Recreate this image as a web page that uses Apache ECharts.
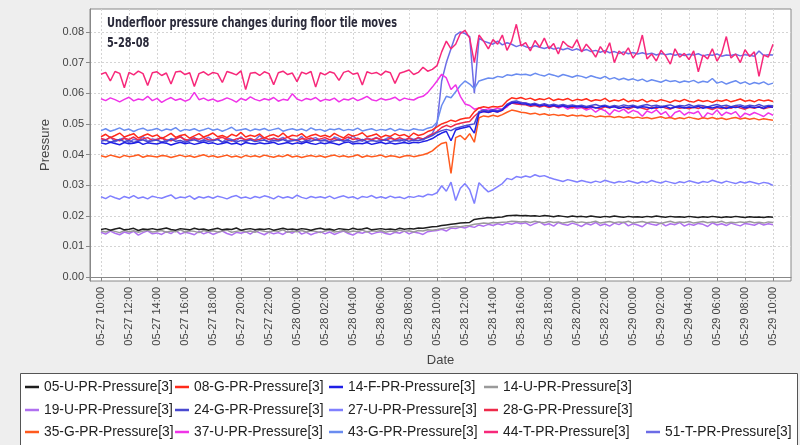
<!DOCTYPE html>
<html>
<head>
<meta charset="utf-8">
<script src="https://cdn.jsdelivr.net/npm/echarts@6/dist/echarts.min.js"></script>
<style>
html,body{margin:0;padding:0;background:#eeeeee;}
#chart{width:800px;height:445px;}
</style>
</head>
<body>
<div id="chart"></div>
<script>
// ---- Data (values in units of 0.0001 pressure) ----
const START_HOUR = 10;        // 05-27 10:00 (hours since 05-27 00:00)
const STEP_HOUR = 1 / 3;      // 20-minute samples
const SCALE = 10000;

const titleLines = ['Underfloor pressure changes during floor tile moves', '5-28-08'];
const xTickHours = [10,12,14,16,18,20,22,24,26,28,30,32,34,36,38,40,42,44,46,48,50,52,54,56,58];
const yTickValues = [0,0.01,0.02,0.03,0.04,0.05,0.06,0.07,0.08];

const seriesNames = [
  '05-U-PR-Pressure[3]','08-G-PR-Pressure[3]','14-F-PR-Pressure[3]','14-U-PR-Pressure[3]',
  '19-U-PR-Pressure[3]','24-G-PR-Pressure[3]','27-U-PR-Pressure[3]','28-G-PR-Pressure[3]',
  '35-G-PR-Pressure[3]','37-U-PR-Pressure[3]','43-G-PR-Pressure[3]','44-T-PR-Pressure[3]','51-T-PR-Pressure[3]'
];

const s05U = [
155,158,153,157,160,154,156,159,152,157,155,158, 154,157,160,155,153,158,156,154,159,155,157,153,
156,159,154,157,155,160,153,156,158,154,157,155, 158,153,156,159,155,157,154,158,156,153,157,159,
155,157,153,158,156,154,159,155,157,160,154,156, 158,155,157,154,159,156,158,157,160,159,162,164,
165,168,170,172,174,176,177,178,188,190,192,194,193,195,196,200,201,202,200,
201,199,200,198,201,199,197,200,198,196,199,197, 198,196,199,197,195,198,196,199,197,195,198,196,
197,195,198,196,199,197,195,198,196,197,195,198, 196,194,197,195,198,196,194,197,195,198,196,194,
197,195,196,194,197,195];

const s08G = [
458,466,455,462,470,457,463,468,454,461,467,459, 464,452,460,469,456,462,465,453,461,468,457,463,
470,458,462,455,466,460,472,457,463,459,467,454, 461,465,458,470,456,463,460,468,455,462,466,459,
463,457,469,461,454,466,460,464,471,458,462,467, 456,463,459,468,461,465,457,470,462,466,475,480,
490,500,505,512,508,515,518,520,540,552,556,553,557,555,558,575,585,582,586,
580,584,577,582,579,585,576,581,578,583,575,580, 577,582,574,579,576,583,573,578,575,581,572,577,
574,580,571,577,573,579,575,570,577,573,580,574, 571,578,573,576,570,577,574,579,572,576,581,574,
577,572,579,575,578,573];

const s14F = [
438,434,440,436,432,439,435,437,441,433,438,436, 434,439,437,431,436,440,435,438,433,437,441,436,
438,433,436,440,434,437,432,439,436,434,438,435, 437,440,433,436,439,434,438,435,441,436,433,438,
435,439,436,432,438,441,434,437,435,439,433,437, 440,435,438,434,437,439,436,440,438,442,446,452,
462,470,476,445,480,485,488,492,470,535,540,538,542,539,545,560,568,570,566,
565,561,563,558,562,557,560,556,559,554,558,555, 557,553,556,552,555,558,553,556,551,555,553,557,
552,556,554,550,555,553,557,551,554,556,552,555, 553,557,551,555,552,556,554,550,555,553,557,552,
556,553,555,551,557,554];

const s14U = [
150,147,153,149,145,152,148,151,146,150,153,147, 149,152,146,150,148,154,147,151,149,145,152,148,
151,147,150,153,146,149,152,148,150,146,153,149, 147,151,149,154,146,150,148,152,147,151,149,145,
150,153,147,149,152,146,150,148,153,147,151,149, 152,146,150,148,153,149,151,147,152,150,154,153,
155,158,160,163,165,164,167,168,172,174,176,175,178,177,179,180,182,181,180,
181,178,182,179,177,181,178,180,176,179,182,177, 180,177,179,182,176,179,181,177,180,178,182,176,
179,181,177,180,178,175,179,182,177,180,178,181, 176,179,181,177,180,178,182,176,179,177,180,178,
181,177,179,176,180,178];

const s19U = [
146,140,150,143,138,147,142,149,137,145,151,141, 144,139,148,142,152,140,146,143,138,149,141,147,
139,145,150,142,137,146,143,148,140,151,144,138, 147,141,145,139,149,143,152,140,146,138,144,148,
141,147,139,145,150,142,137,146,143,149,140,145, 148,142,139,146,143,150,141,147,144,139,148,150,
152,156,150,160,158,163,160,166,162,170,166,172,168,174,170,176,172,178,174,
177,168,175,180,170,174,166,178,172,169,176,171, 165,175,170,178,168,173,166,176,171,179,167,174,
170,164,176,172,169,177,167,174,171,178,166,173, 169,175,172,165,177,170,174,168,176,171,167,175,
172,169,176,170,174,171];

const s24G = [
443,447,440,445,449,442,446,439,444,448,441,445, 447,441,444,450,443,446,440,445,448,442,446,443,
445,449,441,444,447,440,446,443,448,442,445,447, 441,446,444,449,442,445,447,440,446,443,448,444,
446,441,445,448,443,447,440,444,449,442,446,443, 445,448,442,446,444,449,443,447,445,450,455,462,
472,478,482,478,486,490,494,497,500,540,545,542,546,543,548,564,572,575,570,
568,564,567,562,566,561,564,560,563,559,562,558, 561,557,560,563,558,561,556,560,557,562,558,561,
556,560,563,558,561,557,559,562,556,560,558,563, 557,561,559,555,560,563,558,561,556,560,562,557,
561,558,563,557,560,559];

const s27U = [
262,256,265,259,254,263,258,266,257,261,255,264, 260,257,263,268,256,261,259,265,254,262,258,263,
257,264,260,255,262,266,258,261,256,263,259,265, 261,255,264,258,262,257,267,260,256,263,259,262,
258,264,256,261,265,259,262,255,263,260,266,258, 262,257,264,259,261,256,263,260,265,262,270,268,
275,298,280,310,250,290,305,285,240,308,292,278,285,295,305,322,318,328,325,
330,326,334,328,331,325,320,316,312,318,314,310, 315,311,308,313,309,316,311,307,312,309,314,310,
306,312,308,315,310,307,313,309,305,311,308,314, 310,306,312,309,316,311,307,313,309,305,311,307,
312,308,304,309,306,299];

const s28G = [
452,448,456,450,445,453,449,457,447,451,455,446, 450,454,448,445,452,457,449,446,453,450,455,448,
447,452,456,449,444,451,454,448,452,446,450,455, 449,453,447,451,456,448,445,452,450,454,447,451,
455,448,452,446,450,457,449,453,447,451,448,454, 450,446,453,449,455,448,452,447,456,451,458,466,
475,488,495,490,498,502,505,508,525,538,541,537,542,539,544,560,568,565,563,
562,557,560,555,559,553,558,554,561,556,552,558, 555,550,557,553,549,556,552,558,551,555,548,554,
556,551,547,554,550,557,552,548,555,551,553,549, 554,550,556,552,547,553,549,555,551,557,552,548,
554,551,556,549,553,555];

const s35G = [
396,392,398,394,390,397,393,395,399,391,396,394, 392,397,395,390,394,398,393,396,391,395,399,393,
396,391,394,398,392,395,390,397,393,396,392,398, 394,391,396,393,399,392,395,390,394,397,393,396,
391,395,398,393,396,392,394,399,391,396,393,395, 398,392,396,394,390,395,397,393,396,399,404,412,
425,436,440,338,455,462,448,468,440,520,526,523,528,524,530,538,545,542,538,
536,532,535,530,533,528,531,527,530,525,529,526, 528,524,527,522,526,523,525,521,524,520,523,519,
522,518,521,517,520,523,518,521,516,520,517,522, 518,515,520,517,521,516,519,514,518,521,516,519,
515,518,513,517,514,512];

const s37U = [
582,576,585,579,572,580,587,575,581,578,590,576, 583,570,579,586,577,582,574,580,603,579,584,576,
581,573,578,585,579,571,583,577,588,580,575,582, 578,586,574,580,577,598,581,575,583,579,586,574,
580,577,584,572,581,578,585,576,582,590,579,575, 583,578,581,587,576,584,580,578,586,590,602,620,
640,662,650,612,628,590,565,560,548,552,545,549,546,551,548,555,572,566,570,
568,562,565,558,563,555,560,552,557,548,555,550, 553,545,551,538,549,543,530,546,540,548,535,544,
539,525,542,536,546,531,540,520,537,543,529,538, 534,541,518,536,530,545,527,538,532,540,521,535,
529,537,531,524,536,528];

const s43G = [
478,484,476,481,487,479,483,475,482,486,478,481, 485,477,483,480,488,476,482,479,484,477,481,486,
479,483,476,482,489,478,481,484,477,483,480,485, 478,482,486,476,481,484,479,483,477,487,480,482,
476,483,481,485,478,482,479,486,477,481,484,478, 482,479,485,477,483,480,478,484,481,479,486,490,
505,560,590,585,605,625,640,630,615,640,645,650,648,655,652,660,658,663,660,
662,658,665,660,656,663,659,654,661,657,652,658, 655,650,657,652,648,655,646,651,644,649,643,647,
641,646,638,644,640,636,643,638,641,635,640,637, 642,634,639,636,648,633,638,630,636,641,632,637,
629,635,631,637,628,633];

const s44T = [
662,668,640,671,665,618,668,660,672,664,625,667, 670,658,666,630,669,672,661,667,622,664,670,659,
668,664,635,671,666,660,673,612,665,668,658,670, 664,628,667,672,661,666,638,669,663,671,620,667,
660,670,665,642,668,673,662,666,627,670,664,668, 659,672,667,632,665,670,676,661,668,685,672,678,
690,735,770,745,760,795,805,780,700,790,770,745,775,760,790,740,770,825,755,
765,738,772,750,780,745,762,728,770,755,748,775, 735,760,742,718,752,730,765,700,738,725,748,715,
735,790,712,728,705,740,722,695,745,718,730,710, 738,670,725,712,745,705,730,785,715,728,700,742,
720,735,655,725,718,760];

const s51T = [
452,445,458,441,449,455,438,450,446,459,443,451, 447,456,440,452,449,461,444,450,455,442,448,457,
446,451,439,454,449,445,458,443,450,447,462,448, 441,453,449,456,444,450,447,459,442,451,455,446,
449,440,457,452,445,450,461,447,443,454,449,456, 444,451,458,446,450,442,455,449,453,447,460,468,
500,640,700,745,790,800,795,785,600,780,770,765,760,770,758,765,760,752,758,
752,748,755,750,746,751,744,748,742,747,740,745, 738,743,736,740,734,739,732,736,730,735,729,733,
728,732,727,731,725,730,726,729,724,728,723,727, 725,729,722,726,724,728,721,725,723,727,722,726,
724,721,738,723,726,725];

const seriesValues = [s05U,s08G,s14F,s14U,s19U,s24G,s27U,s28G,s35G,s37U,s43G,s44T,s51T];
const seriesColors = ['#1e1e1e','#ff2a1a','#1f1fe6','#9a9a9a','#b070f0','#4a4ad0','#8080ff',
                      '#ee2a4a','#ff5a1e','#f034e8','#6a8cf0','#f7287a','#6c6ce6'];

// ---- Build chart ----
function pad(n){ return (n < 10 ? '0' : '') + n; }
function hourLabel(h){
  const day = 27 + Math.floor(h / 24);
  const hr = Math.round(h % 24);
  return '05-' + day + ' ' + pad(hr) + ':00';
}

const series = [];
for (let k = seriesNames.length - 1; k >= 0; k--) {
  const vals = seriesValues[k];
  series.push({
    name: seriesNames[k],
    type: 'line',
    showSymbol: false,
    symbol: 'none',
    color: seriesColors[k],
    lineStyle: { width: 1.5, color: seriesColors[k] },
    data: vals.map((v, i) => [START_HOUR + i * STEP_HOUR, v / SCALE]),
    animation: false
  });
}

// legend layout: rows of 4, 4, 5 items
const legendRowSizes = [4, 4, 5];
const legendColLeft = [25, 175, 329, 484, 646];
const legendRowCenter = [387, 410, 432];
const legends = [];
let idx = 0;
legendRowSizes.forEach((n, r) => {
  for (let c = 0; c < n; c++) {
    legends.push({
      data: [seriesNames[idx]],
      left: legendColLeft[c],
      top: legendRowCenter[r] - 8,
      padding: 0,
      icon: 'rect',
      itemWidth: 14,
      itemHeight: 2.5,
      selectedMode: false,
      textStyle: { fontFamily: 'Liberation Sans, Arial, sans-serif', fontSize: 13.8, color: '#222', lineHeight: 16 }
    });
    idx++;
  }
});

// Title: condensed bold text, horizontally squeezed to the reference width
const TITLE_FONT = 'bold 14px "DejaVu Sans Condensed", "Liberation Sans Narrow", "DejaVu Sans", sans-serif';
const measureCtx = document.createElement('canvas').getContext('2d');
measureCtx.font = TITLE_FONT;
const titleW = measureCtx.measureText(titleLines[0]).width;
const titleScaleX = Math.min(1, 290 / titleW);

const chart = echarts.init(document.getElementById('chart'), null, { renderer: 'canvas' });
chart.setOption({
  backgroundColor: '#eeeeee',
  animation: false,
  graphic: [
    {
      type: 'rect',
      z: -1,
      shape: { x: 20.5, y: 373.5, width: 777, height: 80 },
      style: { fill: '#ffffff', stroke: '#555555', lineWidth: 1 }
    },
    {
      type: 'text', z: 100, x: 107, y: 23, scaleX: titleScaleX,
      style: { text: titleLines[0], font: TITLE_FONT, fill: '#2b2b3b', textVerticalAlign: 'middle' }
    },
    {
      type: 'text', z: 100, x: 107, y: 43, scaleX: titleScaleX,
      style: { text: titleLines[1], font: TITLE_FONT, fill: '#2b2b3b', textVerticalAlign: 'middle' }
    }
  ],
  legend: legends,
  grid: {
    left: 90, top: 9, width: 701, height: 272,
    show: true, backgroundColor: '#ffffff', borderColor: '#888888', borderWidth: 1
  },
  xAxis: {
    type: 'value',
    min: 9.214,
    max: 59.286,
    name: 'Date',
    nameLocation: 'middle',
    nameGap: 69,
    nameTextStyle: { fontFamily: 'Liberation Sans, Arial, sans-serif', fontSize: 13, color: '#444' },
    axisLine: { show: true, lineStyle: { color: '#888' } },
    axisTick: { show: true, inside: false, length: 4, customValues: xTickHours, lineStyle: { color: '#888' } },
    axisLabel: {
      customValues: xTickHours,
      rotate: 90,
      margin: 6,
      fontFamily: 'Liberation Sans, Arial, sans-serif',
      fontSize: 11,
      color: '#444',
      formatter: v => hourLabel(v)
    },
    splitLine: { show: true, lineStyle: { color: '#d4d4d4', type: [2, 2], width: 1 } }
  },
  yAxis: {
    type: 'value',
    min: -0.0013,
    max: 0.0875,
    name: 'Pressure',
    nameLocation: 'middle',
    nameRotate: 90,
    nameGap: 37,
    nameTextStyle: { fontFamily: 'Liberation Sans, Arial, sans-serif', fontSize: 13, color: '#444' },
    axisLine: { show: true, lineStyle: { color: '#888' } },
    axisTick: { show: true, inside: false, length: 4, customValues: yTickValues, lineStyle: { color: '#888' } },
    axisLabel: {
      customValues: yTickValues,
      margin: 6,
      fontFamily: 'Liberation Sans, Arial, sans-serif',
      fontSize: 11,
      color: '#444',
      formatter: v => v.toFixed(2)
    },
    splitLine: { show: true, lineStyle: { color: '#d4d4d4', type: [2, 2], width: 1 } }
  },
  series: series
});
</script>
</body>
</html>
